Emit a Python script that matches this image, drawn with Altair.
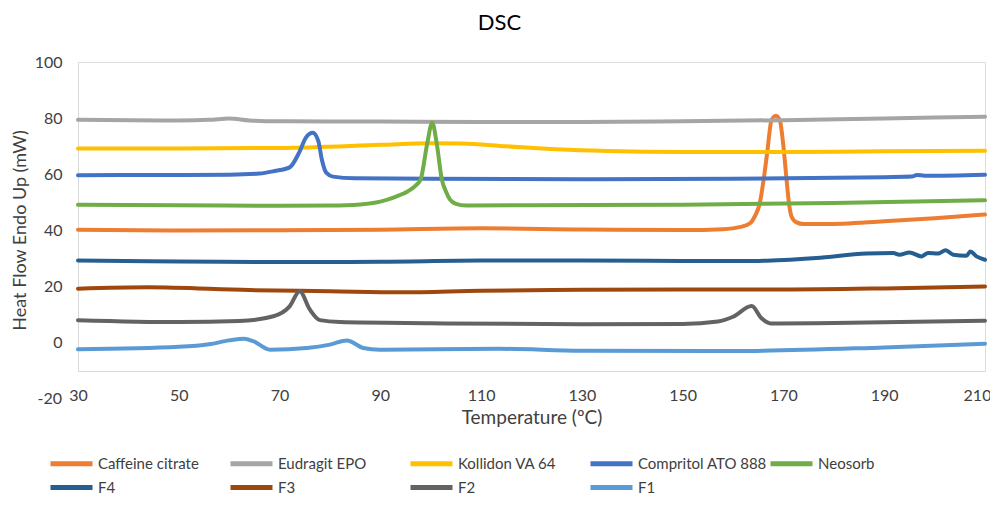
import altair as alt
import pandas as pd

FONT = "Lato"

series = ["Caffeine citrate", "Eudragit EPO", "Kollidon VA 64", "Compritol ATO 888",
          "Neosorb", "F4", "F3", "F2", "F1"]
colors = ["#ED7D31", "#A5A5A5", "#FFC000", "#4472C4", "#70AD47",
          "#255E91", "#9E480E", "#636363", "#5B9BD5"]

caffeine_t = [30, 50, 70, 90, 110, 130, 150, 158, 161.5, 163.5, 164.3, 165.3, 166.1, 166.8,
              167.6, 168.5, 169.3, 170.1, 170.6, 171.1, 171.6, 172.5, 174, 178, 190, 200, 210]
caffeine_v = [40.3, 40.0, 40.1, 40.3, 40.8, 40.4, 40.2, 40.5, 41.3, 42.8, 45.0, 49.7, 58.5, 68.1,
              79.1, 80.9, 79.1, 68.1, 58.5, 49.7, 45.0, 43.0, 42.3, 42.3, 43.3, 44.4, 45.7]

eudragit_t = [30, 50, 56, 60, 64, 70, 90, 110, 130, 150, 170, 190, 210]
eudragit_v = [79.4, 79.2, 79.4, 79.9, 79.2, 78.9, 78.8, 78.6, 78.6, 78.9, 79.3, 79.9, 80.5]

kollidon_t = [30, 50, 70, 90, 100, 106, 115, 125, 135, 150, 170, 190, 210]
kollidon_v = [69.2, 69.2, 69.4, 70.5, 71.1, 71.0, 70.0, 68.9, 68.3, 68.0, 68.0, 68.2, 68.4]

compritol_t = [30, 50, 60, 66, 69, 72, 74, 75.2, 76.6, 77.7, 78.4, 79.3, 80.6, 85, 100, 130,
               160, 190, 195.5, 196.5, 198, 210]
compritol_v = [59.7, 59.8, 59.9, 60.3, 61.2, 62.5, 68.2, 73.0, 74.8, 71.8, 65.2, 60.5, 59.2,
               58.6, 58.4, 58.3, 58.4, 59.0, 59.2, 59.8, 59.5, 59.9]

neosorb_t = [30, 50, 70, 80, 86, 90, 93, 95.5, 97, 98, 99.3, 100.3, 101.2, 102.2, 103, 103.8,
             105, 107, 120, 150, 180, 210]
neosorb_v = [49.2, 49.0, 48.8, 48.9, 49.3, 50.3, 52.0, 54.0, 56.0, 58.2, 70.9, 78.4, 70.9, 58.2,
             54.0, 51.1, 49.5, 48.9, 49.0, 49.2, 49.8, 50.8]

f4_t = [30, 50, 70, 90, 110, 130, 150, 165, 176.5, 186.5, 191.8, 193, 195, 197.4, 198.7, 200.7,
        202.2, 203.7, 206.3, 207.1, 208.3, 210]
f4_v = [29.3, 29.0, 28.8, 28.9, 29.3, 29.3, 29.2, 29.2, 30.2, 31.8, 32.0, 31.4, 32.2, 30.8,
        32.0, 31.8, 33.0, 31.4, 31.0, 32.5, 30.8, 29.6]

f3_t = [30, 44, 64, 80, 94, 110, 130, 150, 170, 190, 210]
f3_v = [19.3, 19.8, 18.8, 18.4, 18.0, 18.6, 18.9, 19.0, 19.0, 19.4, 20.1]

f2_t = [30, 50, 62, 68.8, 72, 74, 76, 78, 82, 100, 130, 150, 157, 160, 163.7, 165.6, 167.6,
        180, 210]
f2_v = [8.1, 7.4, 7.8, 9.5, 13.0, 18.4, 11.9, 8.1, 7.4, 7.0, 6.6, 6.7, 7.6, 9.3, 13.1, 8.9,
        6.9, 7.1, 7.9]

f1_t = [30, 50, 56, 60, 63, 64.8, 68.1, 75.4, 80, 83.4, 86.6, 89.9, 113.7, 130, 160, 190, 210]
f1_v = [-2.3, -1.4, -0.5, 0.9, 1.5, 0.6, -2.4, -1.8, -0.6, 0.9, -1.8, -2.4, -2.1, -2.8, -2.9,
        -1.6, -0.3]

x_ticks = [30, 50, 70, 90, 110, 130, 150, 170, 190, 210]
y_ticks = [0, 20, 40, 60, 80, 100]
y_low_label = [-20]

all_t = [caffeine_t, eudragit_t, kollidon_t, compritol_t, neosorb_t, f4_t, f3_t, f2_t, f1_t]
all_v = [caffeine_v, eudragit_v, kollidon_v, compritol_v, neosorb_v, f4_v, f3_v, f2_v, f1_v]

rows = []
for i, (name, ts, vs) in enumerate(zip(series, all_t, all_v)):
    for j, (t, v) in enumerate(zip(ts, vs)):
        rows.append({"series": name, "T": t, "V": v, "ord": i, "idx": j})
df = pd.DataFrame(rows)

x_scale = alt.Scale(domain=[30, 210], nice=False, zero=False)
y_scale = alt.Scale(domain=[-10, 100], nice=False, zero=False)

lines = alt.Chart(df).mark_line(strokeWidth=4, interpolate="monotone", strokeCap="round").encode(
    x=alt.X("T:Q", scale=x_scale,
            axis=alt.Axis(values=x_ticks, title="Temperature (ºC)", grid=False, ticks=False,
                          domainColor="#D9D9D9", domainWidth=1, labelFont=FONT, labelFontSize=16,
                          labelColor="#404040", labelPadding=16, titleFont=FONT,
                          titleFontSize=19, titleFontWeight="normal", titleColor="#404040",
                          titlePadding=5, labelFlush=False,
                          labelOffset={"condition": {"test": "datum.value == 210", "value": -8},
                                       "value": 0})),
    y=alt.Y("V:Q", scale=y_scale,
            axis=alt.Axis(values=y_ticks, title="Heat Flow Endo Up (mW)", grid=False, ticks=False,
                          domainColor="#D9D9D9", domainWidth=1, labelFont=FONT, labelFontSize=16,
                          labelColor="#404040", labelPadding=16, titleFont=FONT,
                          titleFontSize=18, titleFontWeight="normal", titleColor="#404040",
                          titleX=-58, titleY=168, titleAlign="center", titleBaseline="middle")),
    color=alt.Color("series:N", sort=series,
                    scale=alt.Scale(domain=series, range=colors),
                    legend=alt.Legend(title=None, orient="none", legendX=3, legendY=394,
                                      direction="horizontal", columns=5, gridAlign="all",
                                      symbolType="M-9.5,0H1", symbolSize=64,
                                      symbolStrokeWidth=5,
                                      labelFont=FONT, labelFontSize=15, labelColor="#404040",
                                      labelOffset=2, columnPadding=-7, rowPadding=3)),
    detail="series:N",
    order="idx:Q",
)

low_df = pd.DataFrame({"T": [30] * len(y_low_label), "V": y_low_label,
                       "lab": [str(v) for v in y_low_label]})
low_text = alt.Chart(low_df).mark_text(align="right", baseline="middle", dx=-16, font=FONT,
                                       fontSize=16, color="#404040").encode(
    x=alt.X("T:Q", scale=x_scale),
    y=alt.Y("V:Q", scale=y_scale),
    text="lab:N",
)

chart = alt.layer(lines, low_text).properties(
    width=907, height=309,
    title=alt.TitleParams("DSC", font=FONT, fontSize=22, fontWeight="normal", color="#000000",
                          anchor="middle", dx=-32, offset=19),
    autosize=alt.AutoSizeParams(type="none"),
    padding={"left": 70, "top": 54, "right": 5, "bottom": 128},
).configure_view(stroke=None).configure(background="white")

chart.save("out.html", embed_options={"renderer": "svg", "actions": False})
